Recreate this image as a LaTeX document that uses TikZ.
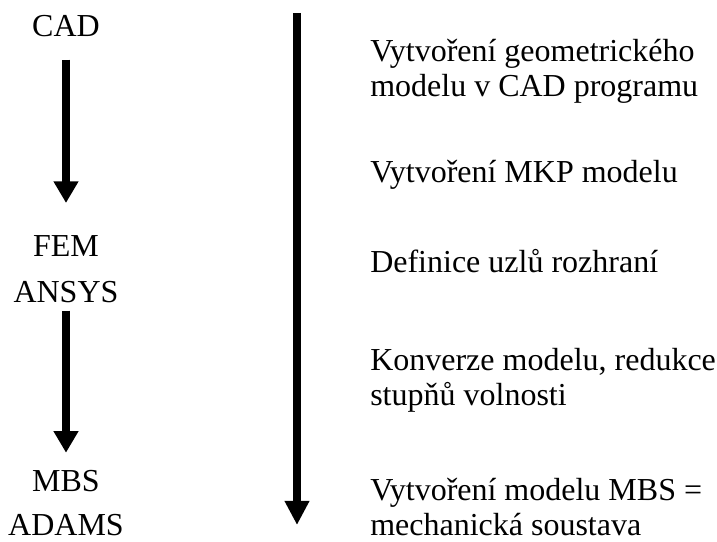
\documentclass[tikz,border=0pt]{standalone}
\usepackage{fontspec}
\setmainfont{Liberation Serif}
\usetikzlibrary{arrows.meta}
\begin{document}
\begin{tikzpicture}[
        font=\fontsize{22.76pt}{24.9pt}\selectfont,
        nastroj/.style={
            inner sep=0pt,
            anchor=base
        },
        krok/.style={
            inner sep=0pt,
            align=left,
            anchor=base west
        },
        sipka/.style={
            line width=0.18cm,
            -{Triangle[width=0.59cm,length=0.54cm]}
        }
    ]
    \useasboundingbox (0,0) rectangle (17.925,13.55);
    % Nastroje
    \node[nastroj] (cad) at (1.65,12.625) {CAD};
    \node[nastroj] (fem) at (1.65,7.125) {FEM};
    \node[nastroj] (ansys) at (1.65,5.975) {ANSYS};
    \node[nastroj] (mbs) at (1.65,1.25) {MBS};
    \node[nastroj] (adams) at (1.65,0.15) {ADAMS};
    % Sipky mezi nastroji
    \draw[sipka, shorten <=0.55cm, shorten >=0.82cm] (cad) -- (fem);
    \draw[sipka, shorten <=0.175cm, shorten >=0.445cm] (ansys) -- (mbs);
    % Casova osa
    \coordinate (start) at (7.425,13.225);
    \coordinate (konec) at (7.425,0.425);
    \draw[sipka, line width=0.19cm, -{Triangle[width=0.58cm,length=0.6cm]}] (start) -- (konec);
    % Kroky, kotva na posledni radce
    \node[krok] (geom) at (9.25,11.125)
        {Vytvoření geometrického\\modelu v CAD programu};
    \node[krok] (mkp) at (9.25,8.975) {Vytvoření MKP modelu};
    \node[krok] (uzly) at (9.25,6.725) {Definice uzlů rozhraní};
    \node[krok] (konv) at (9.25,3.4)
        {Konverze modelu, redukce\\stupňů volnosti};
    \node[krok] (model) at (9.25,0.15)
        {Vytvoření modelu MBS =\\mechanická soustava};
\end{tikzpicture}
\end{document}
